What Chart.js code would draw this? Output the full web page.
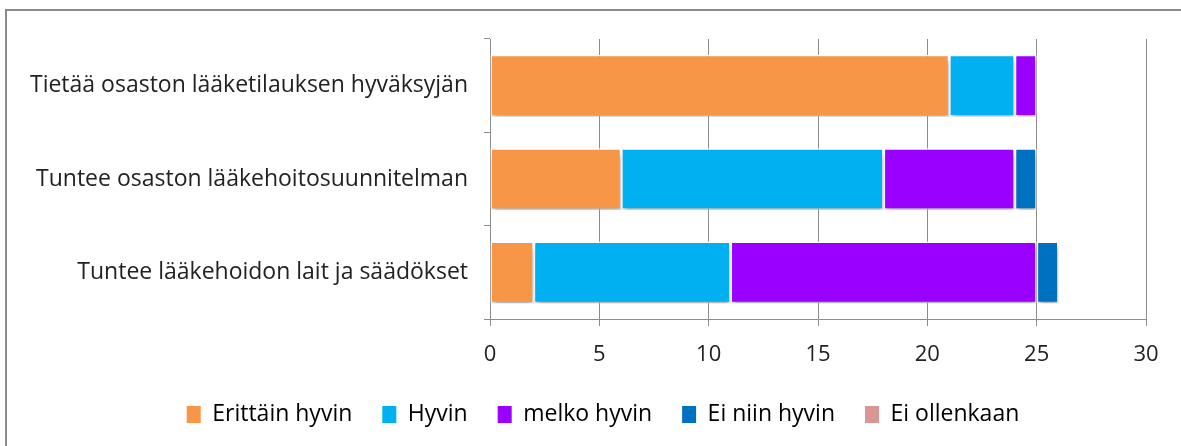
<!DOCTYPE html>
<html>
<head>
<meta charset="utf-8">
<script src="https://cdn.jsdelivr.net/npm/chart.js@4/dist/chart.umd.min.js"></script>
<style>
  html, body { margin: 0; padding: 0; background: #fff; overflow: hidden; }
  #frame {
    position: absolute; left: 5px; top: 9px; width: 1300px; height: 600px;
    border-left: 2px solid #8a8a8a; border-top: 2px solid #8a8a8a;
  }
  #wrap { position: absolute; left: 0; top: 0; width: 1181px; height: 446px; }
</style>
</head>
<body>
<div id="frame"></div>
<div id="wrap"><canvas id="chart" width="1181" height="446"></canvas></div>
<script>
// Survey answers, horizontal stacked bars
const categories = [
    'Tietää osaston lääketilauksen hyväksyjän',
    'Tuntee osaston lääkehoitosuunnitelman',
    'Tuntee lääkehoidon lait ja säädökset'
];
const seriesNames = ['Erittäin hyvin', 'Hyvin', 'melko hyvin', 'Ei niin hyvin', 'Ei ollenkaan'];
const erittainHyvin = [21, 6, 2];
const hyvin = [3, 12, 9];
const melkoHyvin = [1, 6, 14];
const eiNiinHyvin = [0, 1, 1];
const eiOllenkaan = [0, 0, 0];
const xTicks = [0, 5, 10, 15, 20, 25, 30];

const COLORS = ['#F79646', '#00B0F0', '#9900FF', '#0070C0', '#D99694'];
const FONT = '"Open Sans", sans-serif';

const seriesValues = [erittainHyvin, hyvin, melkoHyvin, eiNiinHyvin, eiOllenkaan];

// soft drop shadow under the bars, like the office chart
const shadowPlugin = {
    id: 'barShadow',
    beforeDatasetsDraw(chart) {
        const ctx = chart.ctx;
        ctx.save();
        ctx.shadowColor = 'rgba(0,0,0,0.3)';
        ctx.shadowBlur = 5;
        ctx.shadowOffsetX = 1;
        ctx.shadowOffsetY = 5;
    },
    afterDatasetsDraw(chart) {
        chart.ctx.restore();
    }
};

// the original legend sits a bit right of centre
const legendShift = {
    id: 'legendShift',
    afterLayout(chart) {
        if (!chart.legend) return;
        chart.legend.left += 30;
        chart.legend.right += 30;
    }
};

new Chart(document.getElementById('chart'), {
    type: 'bar',
    data: {
        labels: categories,
        datasets: seriesNames.map(function(name, i) {
            return {
                label: name,
                data: seriesValues[i],
                backgroundColor: COLORS[i],
                borderColor: '#ffffff',
                borderWidth: 1.5,
                borderSkipped: false,
                categoryPercentage: 1,
                barPercentage: 0.66
            };
        })
    },
    plugins: [shadowPlugin, legendShift],
    options: {
        indexAxis: 'y',
        responsive: false,
        animation: false,
        layout: { padding: { top: 39, right: 35, left: 0, bottom: 10 } },
        plugins: {
            tooltip: { enabled: false },
            legend: {
                position: 'bottom',
                labels: {
                    font: { family: FONT, size: 23 },
                    color: '#333',
                    boxWidth: 14,
                    boxHeight: 17,
                    padding: 30,
                    generateLabels(chart) {
                        return chart.data.datasets.map(function(ds, i) {
                            return {
                                text: ds.label,
                                fillStyle: ds.backgroundColor,
                                strokeStyle: ds.backgroundColor,
                                lineWidth: 0,
                                datasetIndex: i
                            };
                        });
                    }
                }
            }
        },
        scales: {
            x: {
                stacked: true,
                min: 0,
                max: 30,
                afterBuildTicks(scale) {
                    scale.ticks = xTicks.map(function(v) { return { value: v }; });
                },
                afterFit(scale) { scale.height = 54; },
                grid: { color: '#8c8c8c', lineWidth: 1, tickLength: 7, drawOnChartArea: true },
                border: { display: true, color: '#8c8c8c' },
                ticks: { font: { family: FONT, size: 22 }, color: '#222', padding: 16 }
            },
            y: {
                stacked: true,
                afterFit(scale) { scale.width = 490; },
                grid: { drawOnChartArea: false, color: '#8c8c8c', tickLength: 6 },
                border: { display: true, color: '#8c8c8c' },
                ticks: { font: { family: FONT, size: 23 }, color: '#222', padding: 16 }
            }
        }
    }
});
</script>
</body>
</html>
